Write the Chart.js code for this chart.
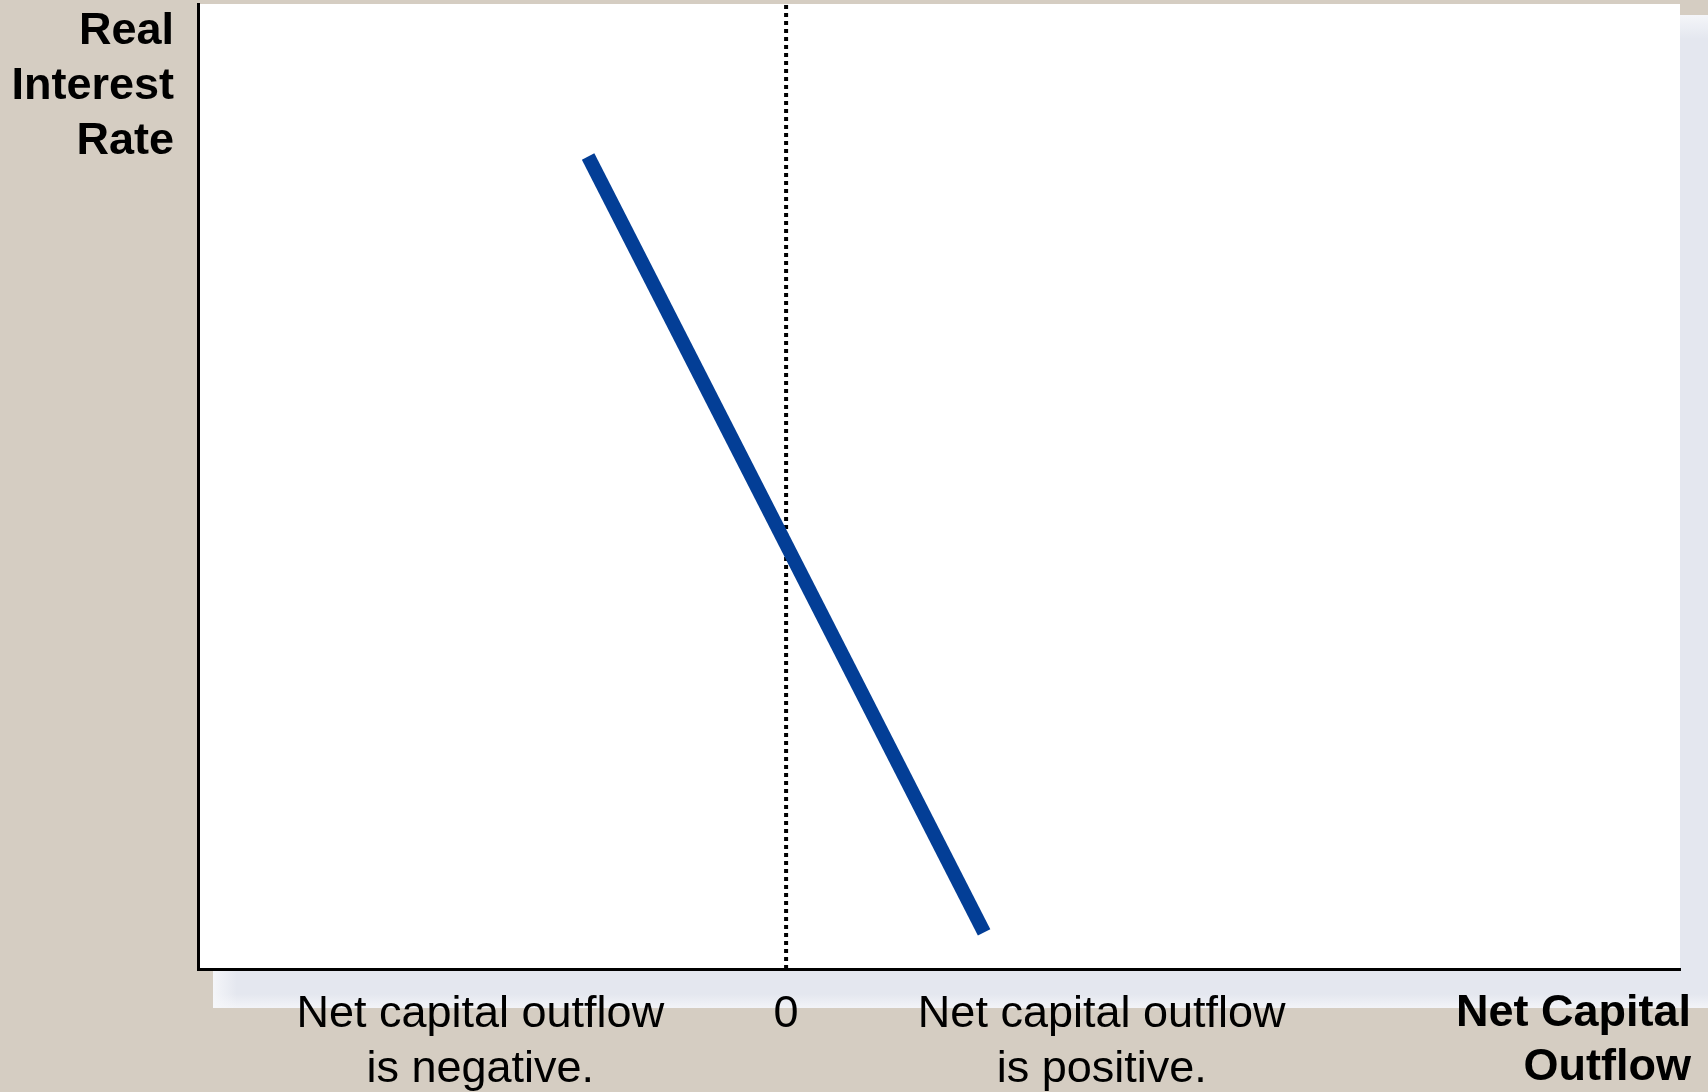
<!DOCTYPE html>
<html>
<head>
<meta charset="utf-8">
<script src="https://cdn.jsdelivr.net/npm/chart.js@4/dist/chart.umd.min.js"></script>
<style>
  html, body { margin: 0; padding: 0; background: #d5cdc2; }
  canvas { display: block; }
</style>
</head>
<body>
<canvas id="c" width="1708" height="1092"></canvas>
<script>
// Net capital outflow (x) against the real interest rate (y)
const nco = [-1.01, 1.01];
const rate = [8.42, 0.38];

// Dotted reference line where net capital outflow is zero
const zeroX = [0, 0];
const zeroY = [0, 10];

// Axis ranges
const xRange = [-3, 4.56];
const yRange = [0, 10];

// Tick positions and labels along the horizontal axis
const tickValues = [-1.56, 0, 1.61];
const tickLabels = [
  ["Net capital outflow", "is negative."],
  ["0"],
  ["Net capital outflow", "is positive."]
];

// Axis titles
const yTitle = ["Real", "Interest", "Rate"];
const xTitle = ["Net Capital", "Outflow"];

const FONT = '"Liberation Sans", Arial, Helvetica, sans-serif';

// Beige page, soft shadow panel and white plotting panel
const panelPlugin = {
  id: 'panel',
  beforeDraw(chart) {
    const { ctx, width, height, chartArea: a } = chart;
    ctx.save();
    ctx.fillStyle = '#d5cdc2';
    ctx.fillRect(0, 0, width, height);

    const sx = a.left + 15, sy = a.top + 11, sw = width - sx, sh = a.bottom + 39 - sy;
    ctx.fillStyle = '#e4e7ef';
    ctx.fillRect(sx, sy, sw, sh);
    let g = ctx.createLinearGradient(0, sy, 0, sy + 24);
    g.addColorStop(0, 'rgba(246,247,250,0.9)');
    g.addColorStop(1, 'rgba(246,247,250,0)');
    ctx.fillStyle = g;
    ctx.fillRect(sx, sy, sw, 24);
    g = ctx.createLinearGradient(0, sy + sh - 14, 0, sy + sh);
    g.addColorStop(0, 'rgba(246,247,250,0)');
    g.addColorStop(1, 'rgba(246,247,250,0.8)');
    ctx.fillStyle = g;
    ctx.fillRect(sx, sy + sh - 14, sw, 14);
    g = ctx.createLinearGradient(sx, 0, sx + 24, 0);
    g.addColorStop(0, 'rgba(246,247,250,0.9)');
    g.addColorStop(1, 'rgba(246,247,250,0)');
    ctx.fillStyle = g;
    ctx.fillRect(sx, sy, 24, sh);

    ctx.fillStyle = '#ffffff';
    ctx.fillRect(a.left, a.top, a.right - a.left, a.bottom - a.top);
    ctx.restore();
  },
  afterDraw(chart) {
    const { ctx, width, chartArea: a } = chart;
    ctx.save();
    ctx.fillStyle = '#000';
    ctx.font = 'bold 45px ' + FONT;
    ctx.textAlign = 'right';
    ctx.textBaseline = 'alphabetic';
    yTitle.forEach((t, i) => ctx.fillText(t, a.left - 24, a.top + 40 + i * 55));
    xTitle.forEach((t, i) => ctx.fillText(t, width - 17, a.bottom + 57 + i * 54));
    ctx.restore();
  }
};

new Chart(document.getElementById('c'), {
  type: 'line',
  data: {
    datasets: [
      {
        label: 'Net capital outflow',
        data: nco.map((x, i) => ({ x, y: rate[i] })),
        borderColor: '#033e96',
        borderWidth: 14,
        borderCapStyle: 'butt',
        pointRadius: 0,
        fill: false,
        order: 0
      },
      {
        label: 'Zero',
        data: zeroX.map((x, i) => ({ x, y: zeroY[i] })),
        borderColor: '#000',
        borderWidth: 4,
        borderDash: [4, 4],
        borderCapStyle: 'butt',
        pointRadius: 0,
        fill: false,
        order: 1
      }
    ]
  },
  options: {
    responsive: false,
    devicePixelRatio: 1,
    animation: false,
    layout: { padding: { top: 4, right: 28, left: 0, bottom: 0 } },
    plugins: { legend: { display: false }, tooltip: { enabled: false } },
    scales: {
      x: {
        type: 'linear',
        min: xRange[0],
        max: xRange[1],
        grid: { display: false, drawTicks: false },
        border: { display: true, color: '#000', width: 3 },
        afterBuildTicks(scale) { scale.ticks = tickValues.map(v => ({ value: v })); },
        afterFit(scale) { scale.height = 123; },
        ticks: {
          autoSkip: false,
          maxRotation: 0,
          minRotation: 0,
          padding: 18,
          color: '#000',
          font: { family: FONT, size: 45, lineHeight: 1.22 },
          callback(value, index) { return tickLabels[index]; }
        }
      },
      y: {
        type: 'linear',
        min: yRange[0],
        max: yRange[1],
        grid: { display: false, drawTicks: false },
        border: { display: true, color: '#000', width: 3 },
        ticks: { display: false },
        afterFit(scale) { scale.width = 198; }
      }
    }
  },
  plugins: [panelPlugin]
});
</script>
</body>
</html>
